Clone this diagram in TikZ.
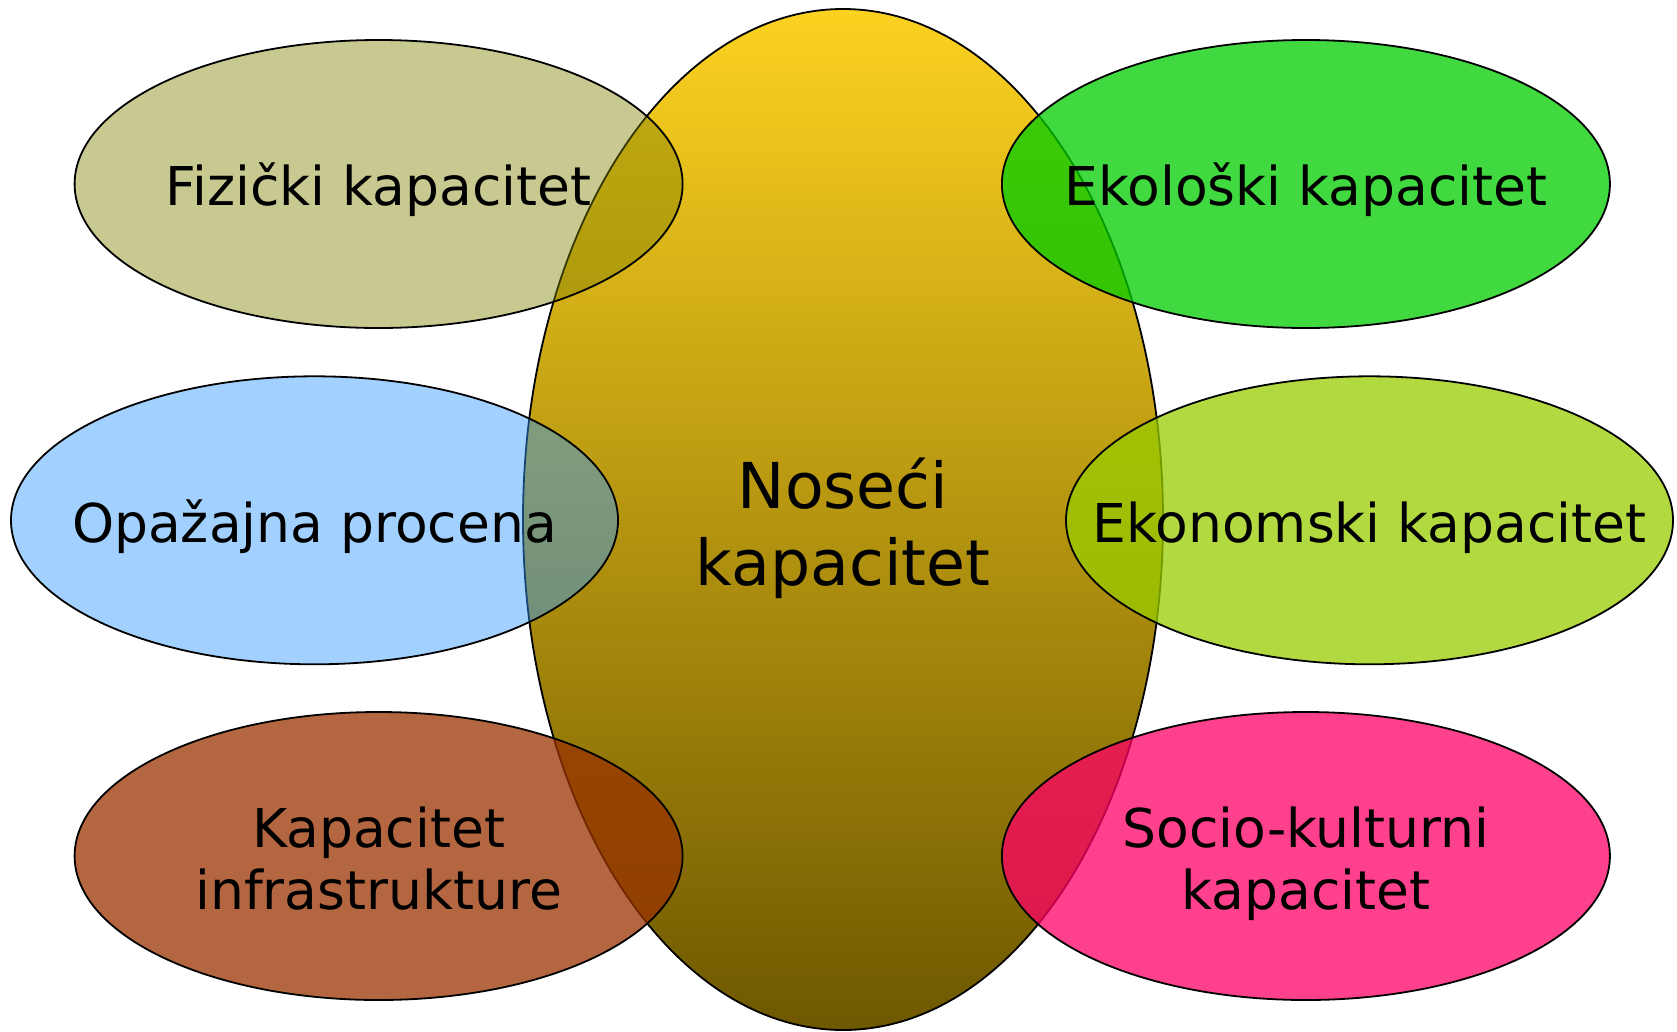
\documentclass[tikz,border=0pt]{standalone}
\usepackage{fontspec}
\setmainfont{DejaVu Sans}
\definecolor{goldtop}{RGB}{252,210,32}
\definecolor{goldbot}{RGB}{110,88,0}
\definecolor{cololive}{RGB}{128,128,0}
\definecolor{colblue}{RGB}{51,153,255}
\definecolor{colbrown}{RGB}{153,51,0}
\definecolor{colgreen}{RGB}{0,204,0}
\definecolor{collime}{RGB}{153,204,0}
\definecolor{colpink}{RGB}{255,0,102}
\tikzset{
  petal/.style={draw=black, line width=1.8pt},
  smalltext/.style={font=\fontsize{53.5}{62}\selectfont, align=center, anchor=base, inner sep=0pt},
  bigtext/.style={font=\fontsize{63.3}{77}\selectfont, align=center, anchor=base, inner sep=0pt}
}
\begin{document}
\begin{tikzpicture}[x=1pt,y=-1pt]
\useasboundingbox (0,0) rectangle (1677,1031);
% central ellipse
\path[draw=black, line width=1.8pt, top color=goldtop, bottom color=goldbot]
  (843,519.5) ellipse [x radius=320, y radius=510.5];
% petals
\path[petal, fill=cololive, fill opacity=0.43] (378.6,184) ellipse [x radius=304, y radius=144];
\path[petal, fill=colblue, fill opacity=0.45] (314.5,520.3) ellipse [x radius=303.5, y radius=144];
\path[petal, fill=colbrown, fill opacity=0.75] (378.6,856) ellipse [x radius=304, y radius=144];
\path[petal, fill=colgreen, fill opacity=0.75] (1305.9,184) ellipse [x radius=304, y radius=144];
\path[petal, fill=collime, fill opacity=0.75] (1369.5,520.3) ellipse [x radius=303.5, y radius=144];
\path[petal, fill=colpink, fill opacity=0.75] (1305.9,856) ellipse [x radius=304, y radius=144];
% labels (base anchor = baseline of the last line)
\node[bigtext] (center) at (843,585) {Noseći\\kapacitet};
\node[smalltext] (fiz) at (378.6,205) {Fizički kapacitet};
\node[smalltext] (opa) at (314.5,542) {Opažajna procena};
\node[smalltext] (inf) at (378.6,909) {Kapacitet\\infrastrukture};
\node[smalltext] (eko) at (1305.9,205) {Ekološki kapacitet};
\node[smalltext] (ekn) at (1369.5,542) {Ekonomski kapacitet};
\node[smalltext] (soc) at (1305.9,909) {Socio-kulturni\\kapacitet};
\end{tikzpicture}
\end{document}
